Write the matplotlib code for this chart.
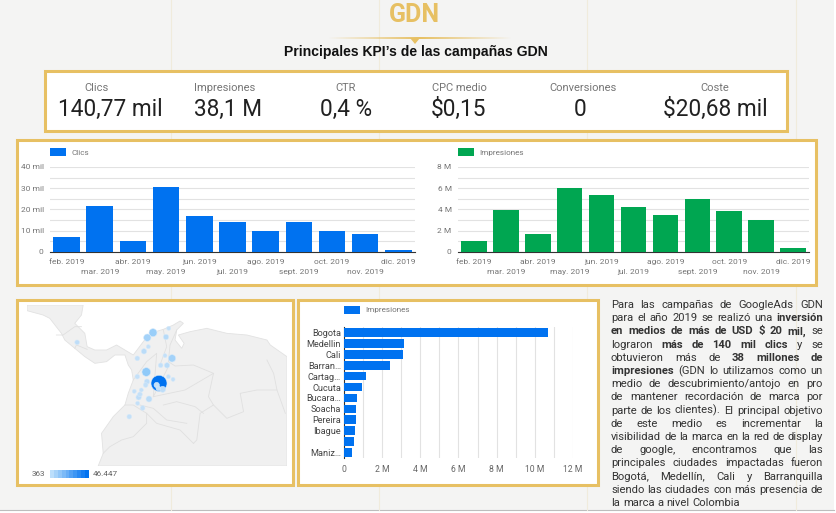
import numpy as np
import matplotlib
matplotlib.use('Agg')
import matplotlib.pyplot as plt
from matplotlib.colors import LinearSegmentedColormap, to_rgb
from matplotlib.patches import Rectangle, Polygon

W, H = 837, 513
GOLD, BLUE, GREEN = '#e7c063', '#0072f0', '#00a651'
C_TICK, C_GRID = '#757575', '#e2e2e2'

plt.rcParams['font.family'] = ['Roboto', 'DejaVu Sans']

# ---------------------------------------------------------------- data
kpi_labels = ['Clics', 'Impresiones', 'CTR', 'CPC medio', 'Conversiones', 'Coste']
kpi_values = ['140,77 mil', '38,1 M', '0,4 %', '$0,15', '0', '$20,68 mil']

months = ['feb. 2019', 'mar. 2019', 'abr. 2019', 'may. 2019', 'jun. 2019', 'jul. 2019',
          'ago. 2019', 'sept. 2019', 'oct. 2019', 'nov. 2019', 'dic. 2019']
clics = [7200, 21500, 5000, 30700, 17000, 13900, 10000, 13900, 10000, 8600, 1100]
impresiones = [1.0e6, 3.96e6, 1.65e6, 6.0e6, 5.33e6, 4.2e6, 3.46e6, 5.0e6, 3.83e6, 3.02e6, 0.4e6]

cities = ['Bogota', 'Medellin', 'Cali', 'Barran…', 'Cartag…', 'Cucuta', 'Bucara…',
          'Soacha', 'Pereira', 'Ibague', '', 'Maniz…']
city_impr = [10.7e6, 3.14e6, 3.07e6, 2.42e6, 1.17e6, 0.94e6, 0.66e6, 0.63e6, 0.63e6,
             0.59e6, 0.54e6, 0.40e6]

# map, traced in map units off the reference
land_x = [82, 250, 245, 225, 255, 262, 285, 320, 350, 375, 400, 430, 450, 490, 520, 540, 550,
          530, 525, 545, 552, 535, 570, 620, 680, 740, 800, 810, 860, 860, 295, 310, 305, 340,
          375, 385, 400, 395, 385, 375, 345, 320, 285, 255, 225, 195, 185, 150, 130, 82]
land_y = [45, 45, 75, 100, 130, 170, 180, 180, 165, 180, 195, 155, 130, 118, 105, 93, 100,
          120, 150, 175, 160, 135, 125, 115, 130, 135, 150, 165, 200, 528, 528, 490, 430, 380,
          345, 310, 270, 240, 225, 195, 195, 215, 220, 200, 175, 150, 130, 85, 75, 62]
borders = [
    ([530, 510, 505, 525, 580, 640, 625, 640, 600, 590, 580], [120, 165, 215, 228, 225, 250, 320, 345, 370, 450, 460]),
    ([580, 540, 470, 440, 400, 375], [460, 420, 400, 370, 345, 345]),
    ([440, 440, 400, 365, 330, 310], [370, 400, 440, 450, 470, 490]),
    ([640, 680, 730, 720, 770, 830], [345, 385, 365, 310, 300, 300]),
    ([800, 820, 830, 855], [210, 250, 300, 370]),
    ([460, 555, 640], [320, 300, 250]),
    ([490, 530, 585, 610], [345, 335, 350, 370]),
    ([400, 440, 470, 460, 505], [270, 215, 190, 320, 230]),
    ([490, 500, 480], [120, 170, 225]),
    ([420, 460, 500, 560], [345, 355, 390, 400]),
    ([245, 225, 190, 170], [110, 110, 135, 135]),
    ([262, 230, 225], [178, 165, 175]),
]
bubble_x = [459, 442, 506, 498, 445, 432, 495, 516, 412, 482, 501, 439, 412, 505, 519, 441, 437,
            477, 470, 488, 475, 424, 403, 420, 416, 447, 413, 428, 388, 232]
bubble_y = [128, 143, 115, 141, 170, 184, 197, 205, 205, 226, 226, 246, 260, 260, 268, 275, 285,
            280, 285, 298, 295, 300, 304, 313, 322, 327, 340, 354, 380, 157]
bubble_r = [12, 11, 6, 8, 6, 8, 6, 11, 7, 7, 8, 13, 7, 6, 6, 8, 7,
            24, 8, 9, 7, 6, 6, 7, 8, 9, 6, 7, 7, 7]
bubble_val = [0.25, 0.2, 0.03, 0.1, 0.03, 0.08, 0.03, 0.2, 0.03, 0.04, 0.08, 0.3, 0.03, 0.03, 0.03,
              0.06, 0.03, 1.0, 0.03, 0.06, 0.03, 0.03, 0.03, 0.03, 0.06, 0.08, 0.03, 0.03, 0.03, 0.06]
map_min, map_max = '363', '46.447'

body_lines = [
    'Para las campañas de GoogleAds GDN',
    'para el año 2019 se realizó una *inversión*',
    '*en medios de más de USD $ 20 mil,* se',
    'lograron *más de 140 mil clics* y se',
    'obtuvieron más de *38 millones de*',
    '*impresiones* (GDN lo utilizamos como un',
    'medio de descubrimiento/antojo en pro',
    'de mantener recordación de marca por',
    'parte de los clientes). El principal objetivo',
    'de este medio es incrementar la',
    'visibilidad de la marca en la red de display',
    'de google, encontramos que las',
    'principales ciudades impactadas fueron',
    'Bogotá, Medellín, Cali y Barranquilla',
    'siendo las ciudades con más presencia de',
    'la marca a nivel Colombia',
]


# ---------------------------------------------------------------- helpers
def px_axes(x0, y0, x1, y1, **kw):
    """Axes placed by pixel box, y counted from the top of the picture."""
    return fig.add_axes([x0 / W, 1 - y1 / H, (x1 - x0) / W, (y1 - y0) / H], **kw)


def panel(x0, y0, x1, y1):
    bg.add_patch(Rectangle((x0, y0), x1 - x0, y1 - y0, fc='white', ec=GOLD, lw=2.2, zorder=2))


def month_chart(box, values, ticks, minor, fmt, color, name):
    ax = px_axes(*box)
    ax.patch.set_alpha(0)
    ax.bar(range(len(values)), values, width=0.8, color=color, label=name, zorder=3)
    ax.set_xlim(-0.5, len(values) - 0.5)
    ax.set_ylim(0, ticks[-1])
    ax.set_yticks(ticks)
    ax.set_yticklabels([fmt(t) for t in ticks])
    ax.set_yticks(minor, minor=True)
    ax.grid(axis='y', which='both', color=C_GRID, lw=0.8, zorder=0)
    ax.set_xticks(range(len(values)))
    ax.set_xticklabels(months)
    ax.tick_params(length=0, labelsize=6.0, labelcolor=C_TICK, which='both')
    ax.tick_params(axis='y', pad=4.5)
    for i, t in enumerate(ax.xaxis.get_major_ticks()):
        t.set_pad(5 if i % 2 == 0 else 12.5)
    for s in ['top', 'left', 'right']:
        ax.spines[s].set_visible(False)
    ax.spines['bottom'].set_color('#333333')
    ax.legend(loc='lower left', bbox_to_anchor=(0, 1.13), frameon=False, fontsize=5.9,
              labelcolor=C_TICK, handlelength=2.0, handleheight=1.2, handletextpad=0.6,
              borderpad=0, borderaxespad=0)
    return ax


# ---------------------------------------------------------------- page
fig = plt.figure(figsize=(W / 100, H / 100), dpi=100, facecolor='white')
bg = fig.add_axes([0, 0, 1, 1], zorder=0)
bg.set_xlim(0, W)
bg.set_ylim(H, 0)
bg.axis('off')
bg.add_patch(Rectangle((0, 0), 834, 510, fc='#f4f4f3', ec='none', zorder=0))
bg.plot([0, 834], [510, 510], color='#bdbdbd', lw=0.8, zorder=1)
for vx in [171, 379, 587, 796]:
    bg.plot([vx, vx], [0, 510], color='#f0ebdc', lw=0.8, zorder=1)

bg.text(414.5, 15, 'GDN', color=GOLD, fontsize=18, fontweight='bold', ha='center', va='center')
fade = np.zeros((1, 200, 4))
fade[..., :3] = to_rgb(GOLD)
fade[..., 3] = 1 - np.abs(np.linspace(-1, 1, 200))
bg.imshow(fade, extent=(328, 512, 39, 37), aspect='auto', zorder=1)
bg.set_xlim(0, W)
bg.set_ylim(H, 0)
bg.add_patch(Polygon([(410, 38), (420, 38), (415, 44)], fc=GOLD, ec='none', zorder=2))
bg.text(416, 52, 'Principales KPI’s de las campañas GDN', family='Liberation Sans', color='#111111',
        fontsize=10.05, fontweight='bold', ha='center', va='center')

panel(45, 71, 787, 131)
panel(17, 140, 816, 285)
panel(17, 300, 293, 485)
panel(298, 300, 598, 485)

# ---------------------------------------------------------------- KPI row
label_x = [97, 225, 346, 459, 583, 715]
value_x = [110, 228, 346, 459, 580, 715]
for lx, vx, lab, val in zip(label_x, value_x, kpi_labels, kpi_values):
    bg.text(lx, 88, lab, color='#757575', fontsize=8.0, ha='center', va='center', zorder=3)
    bg.text(vx, 109, val, color='#212121', fontsize=16.3, ha='center', va='center', zorder=3,
            parse_math=False)

# ---------------------------------------------------------------- monthly charts
month_chart((50, 167, 415, 252), clics, [0, 10000, 20000, 30000, 40000],
            [5000, 15000, 25000, 35000], lambda v: '0' if v == 0 else f'{v // 1000} mil',
            BLUE, 'Clics')
month_chart((458, 167, 809, 252), impresiones, [0, 2e6, 4e6, 6e6, 8e6],
            [1e6, 3e6, 5e6, 7e6], lambda v: '0' if v == 0 else f'{v / 1e6:.0f} M',
            GREEN, 'Impresiones')

# ---------------------------------------------------------------- map
mp = px_axes(27, 305, 287, 466)
mp.set_xlim(82, 860)
mp.set_ylim(528, 45)
mp.axis('off')
mp.fill(land_x, land_y, fc='#f0f0f0', ec='#e2e2e2', lw=0.6, zorder=1)
for bx, by in borders:
    mp.plot(bx, by, color='#e0e0e0', lw=0.6, zorder=2)
bub_cmap = LinearSegmentedColormap.from_list('bub', [(0, '#c9e2f8'), (0.3, '#90caf9'), (1, BLUE)])
order = np.argsort(bubble_r)[::-1]
mp.scatter(np.array(bubble_x)[order], np.array(bubble_y)[order],
           s=(0.48 * np.array(bubble_r)[order]) ** 2, c=np.array(bubble_val)[order],
           cmap=bub_cmap, vmin=0, vmax=1, edgecolors='#d5e9fa', linewidths=0.4, zorder=3)

cb = px_axes(50, 470, 89, 478)
cb.imshow(np.linspace(0, 1, 10)[None, :], cmap=LinearSegmentedColormap.from_list(
    'leg', ['#bbdefb', BLUE]), aspect='auto')
cb.axis('off')
bg.text(31.5, 474, map_min, color='#616161', fontsize=5.9, va='center', zorder=3)
bg.text(93, 474, map_max, color='#616161', fontsize=5.9, va='center', zorder=3)

# ---------------------------------------------------------------- cities
ch = px_axes(344, 327, 573, 458)
ch.patch.set_alpha(0)
ch.barh(range(len(city_impr)), city_impr, height=0.8, color=BLUE, label='Impresiones', zorder=3)
ch.set_ylim(len(city_impr) - 0.5, -0.5)
ch.set_xlim(0, 12e6)
ch.set_yticks(range(len(cities)))
ch.set_yticklabels(cities)
ch.set_xticks(np.arange(0, 13e6, 2e6))
ch.set_xticklabels(['0', '2 M', '4 M', '6 M', '8 M', '10 M', '12 M'])
ch.set_xticks(np.arange(1e6, 12e6, 2e6), minor=True)
ch.grid(axis='x', which='both', color=C_GRID, lw=0.8, zorder=0)
ch.tick_params(which='both', length=0)
ch.tick_params(axis='x', labelsize=6.2, labelcolor='#666666', pad=5)
ch.tick_params(axis='y', labelsize=6.6, labelcolor='#444444', pad=2)
for s in ['top', 'bottom', 'right']:
    ch.spines[s].set_visible(False)
ch.spines['left'].set_color('#333333')
ch.legend(loc='lower left', bbox_to_anchor=(0, 1.10), frameon=False, fontsize=5.9,
          labelcolor=C_TICK, handlelength=2.0, handleheight=1.2, handletextpad=0.6,
          borderpad=0, borderaxespad=0)

# ---------------------------------------------------------------- justified body text
renderer = fig.canvas.get_renderer()
X0, X1, Y0, STEP = 611, 823, 305, 13.2
for n, line in enumerate(body_lines):
    y = Y0 + n * STEP
    bold = False
    words = []
    for tok in line.split():
        starts_bold = bold or tok.startswith('*')
        if tok.count('*') % 2:
            bold = not bold
        words.append((tok.replace('*', ''), starts_bold))
    arts = [bg.text(0, y, w, fontsize=8.1, color='#333333', va='center', zorder=3,
                    fontweight='bold' if b else 'normal', parse_math=False) for w, b in words]
    widths = [a.get_window_extent(renderer).width for a in arts]
    if n == len(body_lines) - 1:
        gap = 3.0
    else:
        gap = (X1 - X0 - sum(widths)) / (len(arts) - 1)
    x = X0
    for a, w in zip(arts, widths):
        a.set_x(x)
        x += w + gap

fig.savefig('out.png', dpi=100)
